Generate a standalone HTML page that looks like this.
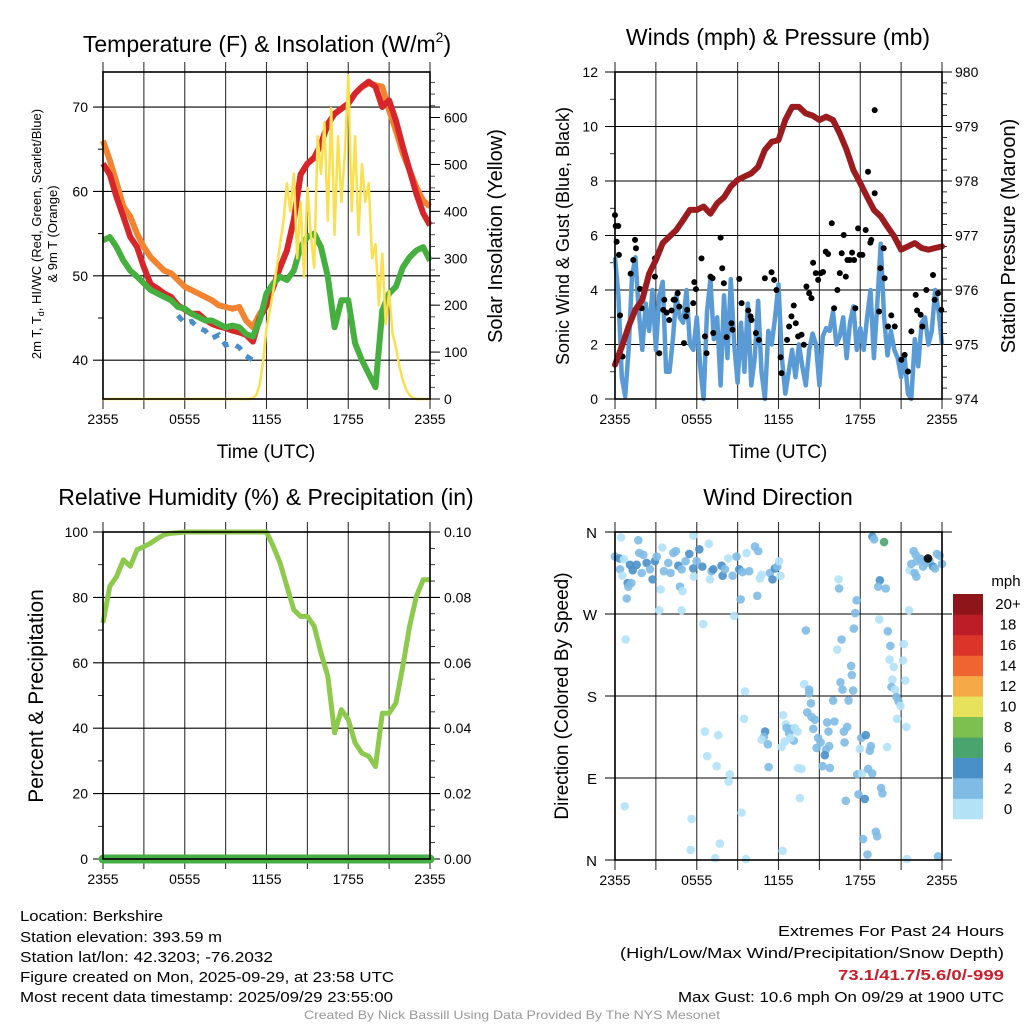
<!DOCTYPE html>
<html><head><meta charset="utf-8"><style>
html,body{margin:0;padding:0;background:#fff;}
svg{display:block;font-family:"Liberation Sans",Arial,sans-serif;}
</style></head><body>
<svg id="fig" width="1024" height="1024" viewBox="0 0 1024 1024" xmlns="http://www.w3.org/2000/svg">
<rect width="1024" height="1024" fill="#fff"/>
<g id="layer"></g>
<g font-size="15" fill="#000">
<text x="20" y="921" textLength="143" lengthAdjust="spacingAndGlyphs">Location: Berkshire</text>
<text x="20" y="942" textLength="202" lengthAdjust="spacingAndGlyphs">Station elevation: 393.59 m</text>
<text x="20" y="962" textLength="253" lengthAdjust="spacingAndGlyphs">Station lat/lon: 42.3203; -76.2032</text>
<text x="20" y="982" textLength="374" lengthAdjust="spacingAndGlyphs">Figure created on Mon, 2025-09-29, at 23:58 UTC</text>
<text x="20" y="1002" textLength="373" lengthAdjust="spacingAndGlyphs">Most recent data timestamp: 2025/09/29 23:55:00</text>
<text x="1004" y="936" text-anchor="end" textLength="226" lengthAdjust="spacingAndGlyphs">Extremes For Past 24 Hours</text>
<text x="1004" y="958" text-anchor="end" textLength="384" lengthAdjust="spacingAndGlyphs">(High/Low/Max Wind/Precipitation/Snow Depth)</text>
<text x="1004" y="980" text-anchor="end" font-weight="bold" fill="#c8202a" textLength="166" lengthAdjust="spacingAndGlyphs">73.1/41.7/5.6/0/-999</text>
<text x="1004" y="1002" text-anchor="end" textLength="326" lengthAdjust="spacingAndGlyphs">Max Gust: 10.6 mph On 09/29 at 1900 UTC</text>
<text x="512" y="1019" text-anchor="middle" font-size="12" fill="#999" textLength="416" lengthAdjust="spacingAndGlyphs">Created By Nick Bassill Using Data Provided By The NYS Mesonet</text>
</g>
</svg>
<script>
// ---------- DATA ----------
const xTickLabels = ["2355","0555","1155","1755","2355"];
const tempRed = [63.3,62,59.3,57,54.6,53.4,51,49,48.5,47.9,47.5,46.5,46,45.5,45.5,44.8,44.3,44,43.8,43.5,43.3,43,42.2,45,46.5,48.7,51,53,56.6,62,63.3,64,65.6,68,69.2,69.8,70.4,71.6,72.4,73,72.4,70,70.8,68.4,65.3,62.5,59.7,57.4,56];
const temp9m = [66,63.7,61,58.2,57,55,53.4,52.2,51.4,50.6,50.3,49.5,48.7,48.3,47.9,47.5,47.1,46.5,46.3,46.1,46.3,44.7,43.9,45.5,46.5,48.7,51,53,56.6,62,63.3,64,65.6,68,69.2,69.8,70.4,71.6,72.4,72.8,72.6,72.4,69.6,67.2,64.5,62.5,60.5,58.9,58.2];
const dewGreen = [54.2,54.6,53.4,51.8,50.6,49.9,49.1,48.3,47.9,47.5,47.1,46.3,46.1,45.5,45.1,44.7,44.7,44.3,43.9,44.1,43.9,43.1,42.8,44.7,47.9,49.1,49.9,49.5,50.6,53.4,54.6,55,53.4,49.9,43.9,47.1,47.1,42,40,38.4,36.8,45.9,47.9,48.7,51,52.2,53,53.4,51.8];
const windChillStart = 5.5;
const windChill = [45.3,44.4,44.6,43.8,43.5,42.6,43,41.8,42,41.5,40.5,40];
const solar = [0,0,0,0,0,0,0,0,0,0,0,0,0,0,0,0,0,0,0,0,0,0,0,0,0,0,0,0,0,0,0,0,0,0,0,0,0,0,0,0,0,0,0,0,
2,8,30,80,150,190,230,280,330,380,460,400,480,300,420,260,450,350,280,560,480,590,380,620,350,560,420,520,690,400,560,350,500,420,460,300,330,200,310,160,230,140,110,70,40,20,8,2,
0,0,0,0,0];
const windSpeed = [5.2,3.8,0.8,0.1,1.8,4.5,5.2,3.2,1.8,3.5,2.5,4.0,1.8,3.8,4.3,1.0,1.0,2.2,3.8,3.0,2.8,4.0,2.0,1.8,3.0,1.2,0.0,3.2,4.4,2.2,3.0,0.5,3.8,1.5,4.4,2.0,0.6,2.8,1.0,3.5,0.5,1.5,3.6,1.0,0.0,2.5,2.0,3.0,4.2,1.5,0.2,1.0,1.8,0.8,2.0,1.2,0.5,1.8,2.4,2.0,0.5,2.3,2.6,2.5,3.2,2.0,2.3,3.0,1.5,2.8,3.4,1.8,2.6,1.8,3.0,4.0,1.5,3.5,5.7,3.0,1.6,2.5,1.8,1.5,0.8,1.6,0.2,0.0,2.2,1.2,2.8,3.0,2.0,2.5,4.0,3.2,2.0];
const gustHours = [0,0.05,0.24,0.12,0.29,0.37,0.56,1.15,1.34,1.47,1.54,1.83,1.96,2.93,2.93,3.25,3.62,3.54,3.79,3.98,4.15,4.3,4.4,4.6,4.72,5.06,5.21,5.3,5.74,5.82,5.94,6.35,6.6,6.72,7.01,7.16,7.21,7.75,7.87,7.99,8.19,8.55,8.63,9.12,9.29,9.78,9.95,10.02,10.34,10.56,11.0,11.49,11.68,11.85,12.15,12.22,12.63,12.78,12.95,13.12,13.27,13.44,13.69,13.86,14.05,14.25,14.42,14.54,14.74,14.91,15.1,15.27,15.47,15.64,15.91,16.08,16.32,16.5,16.64,16.79,16.94,17.06,17.23,17.4,17.55,17.64,17.84,17.96,18.16,18.4,18.57,18.74,18.81,19.06,19.06,19.38,19.48,19.72,19.79,20.04,20.28,20.53,21.02,21.26,21.5,21.75,22.07,22.17,22.43,22.56,22.85,23.34,23.46,23.71,23.95];
const gustMph = [6.75,6.35,6.35,5.77,5.29,3.07,1.56,4.6,5.1,5.84,5.53,4.04,3.33,5.16,4.49,1.68,3.64,3.27,3.17,2.9,3.25,3.64,3.64,3.88,3.39,2.05,3.03,3.27,3.52,4.29,4.03,5.16,2.3,1.68,4.49,4.43,2.42,5.92,4.8,4.25,2.27,2.78,2.54,4.41,3.52,3.25,3.03,2.9,2.42,2.17,4.43,4.65,4.37,4.0,1.53,0.95,2.17,2.66,3.03,3.43,2.78,2.3,2.36,1.99,4.13,3.88,3.7,5.0,4.62,4.37,4.62,4.66,5.41,5.32,6.45,3.33,4.0,4.62,5.35,6.02,4.49,5.1,5.1,5.37,5.1,3.33,6.26,5.29,5.29,6.2,8.34,5.74,5.84,10.6,7.55,3.21,4.8,5.53,4.43,2.66,3.07,2.66,1.44,1.62,1.01,2.48,3.82,3.25,3.09,2.66,4.0,4.55,3.64,3.88,3.27];
const pressure = [974.63,974.96,975.33,975.64,975.82,976.3,976.55,976.86,976.98,977.1,977.28,977.47,977.47,977.53,977.4,977.59,977.7,977.9,978.02,978.08,978.14,978.26,978.57,978.72,978.75,979.12,979.36,979.36,979.24,979.2,979.12,979.18,979.12,978.87,978.57,978.2,977.96,977.71,977.47,977.35,977.16,976.98,976.74,976.8,976.86,976.77,976.74,976.77,976.8];
const relHum = [72.2,83.4,86.4,91.5,89.5,94.6,95.5,96.6,98,99.2,99.6,99.8,100,100,100,100,100,100,100,100,100,100,100,100,100,95.6,90.5,83.4,76.2,74.2,74.2,71.2,63,55.9,38.6,45.7,42.6,35.5,32.4,31.4,28.3,44.6,44.6,47.7,58.9,71.2,80.3,85.4,85.4];
const precip = [0,0,0,0,0,0,0,0,0,0,0,0,0,0,0,0,0,0,0,0,0,0,0,0,0,0,0,0,0,0,0,0,0,0,0,0,0,0,0,0,0,0,0,0,0,0,0,0,0];
const dirHours = [0.44,1.71,0,0.32,0.66,0.37,0.54,1.10,1.30,1.59,1.78,2.08,1.96,2.32,2.57,2.76,2.93,3.06,3.47,3.59,3.91,4.08,4.28,4.47,4.65,4.89,5.18,5.45,5.75,5.79,5.99,6.19,6.41,6.89,7.09,7.21,6.97,7.82,7.90,8.07,8.31,8.63,8.92,9.12,9.36,9.66,9.85,10.27,10.51,10.64,10.76,11.37,11.56,11.74,11.91,12.05,12.15,4.77,4.96,5.75,0.93,1.20,0.98,0.86,3.35,9.22,10.44,3.25,4.89,8.75,6.48,0.78,9.54,9.46,6.60,7.58,6.77,7.46,8.43,8.34,0.71,5.62,9.29,5.55,7.70,7.36,9.61,12.30,11.02,10.93,10.76,11.22,11.27,12.34,12.54,12.59,12.78,12.98,13.20,13.12,12.88,12.46,12.22,13.40,13.44,13.69,13.57,14.01,13.89,14.25,14.25,14.38,14.11,14.42,14.67,14.55,14.91,15.09,14.79,15.48,15.40,15.72,15.23,15.77,16.01,16.11,15.57,15.67,16.80,16.85,17.04,16.41,16.45,16.31,16.63,16.55,16.70,17.14,17.33,17.38,17.48,17.73,17.63,17.53,18.07,17.97,17.78,18.14,18.58,18.88,18.41,18.78,18.70,16.94,17.87,18.33,19.53,19.63,18.21,19.14,19.24,18.53,18.89,19.02,19.75,19.44,19.32,19.87,19.39,20.02,20.21,20.16,20.46,20.36,20.29,20.56,20.66,20.81,20.95,20.70,21.19,21.14,21.31,21.38,19.97,21.58,21.43,23.71,21.63,21.75,21.92,22.07,22.17,22.12,22.36,22.61,22.85,23.09,23.34,23.49,23.63,23.83,24.0,21.99,22.48,22.97];
const dirDeg = [354,351,333,331,330,319,312,324,318,324,337,335,315,326,319,308,328,333,343,317,326,315,337,339,323,319,328,336,320,311,328,341,322,347,317,319,308,323,312,319,331,312,333,319,316,337,317,344,339,309,313,315,308,320,322,328,312,300,295,356,304,304,300,287,297,286,290,274,274,268,259,242,185,155,141,137,114,103,94,86,59,45,52,11,18,2,1,10,141,135,132,127,102,159,149,145,139,144,145,131,134,130,124,141,101,100,68,252,193,187,183,172,162,157,154,144,134,129,123,121,115,125,103,101,175,152,151,141,141,129,146,308,298,231,242,195,187,175,213,203,186,285,271,254,134,122,94,95,100,95,137,125,120,65,72,67,79,73,23,31,26,6,355,352,349,307,300,298,264,251,235,220,212,198,190,187,179,174,169,155,237,219,197,146,124,274,1,4,318,325,339,335,328,311,331,322,326,328,322,320,336,334,325,315,330,331];
const dirSpeed = [1,3,3,5,1,3,1,5,5,5,3,3,3,5,3,5,5,3,1,3,3,3,3,3,5,3,3,5,5,1,3,5,5,1,3,5,1,5,5,3,1,3,3,5,3,1,3,3,3,1,1,3,5,5,3,1,1,3,1,1,5,3,3,3,1,3,3,1,1,1,1,1,1,1,1,1,1,1,1,1,1,1,1,1,1,1,1,1,5,3,1,3,3,1,1,3,3,3,1,3,1,1,1,1,1,1,1,3,1,3,3,3,3,3,3,3,3,3,3,3,5,3,3,3,3,3,3,3,3,3,3,1,3,1,3,3,3,3,3,3,3,3,3,3,3,1,3,1,3,3,5,3,3,3,3,5,3,3,3,3,3,3,5,3,7,5,3,3,1,3,3,1,1,1,3,1,3,3,1,1,1,1,1,1,1,1,1,3,1,3,3,3,3,3,3,3,3,3,5,3,3,3,3,3,3];
const speedBinLabels = ["0","2","4","6","8","10","12","14","16","18","20+"];
const speedBinColors = ["#b3e2f7","#80bbe5","#4a90c8","#49a46e","#7dc04f","#e7e25b","#f5aa47","#ef6431","#dc3429","#bc1d26","#8e161a"];

// ---------- HELPERS ----------
const NS = "http://www.w3.org/2000/svg";
const layer = document.getElementById("layer");
function mk(tag, attrs, parent) {
  const e = document.createElementNS(NS, tag);
  for (const k in attrs) e.setAttribute(k, attrs[k]);
  (parent || layer).appendChild(e);
  return e;
}
function txt(x, y, s, size, anchor, parent, rot) {
  const t = mk("text", {x: x, y: y, "font-size": size, "text-anchor": anchor || "middle", fill: "#000"}, parent);
  if (rot) t.setAttribute("transform", "rotate(-90 " + x + " " + y + ")");
  t.textContent = s;
  return t;
}
function linePath(xs, ys) {
  let d = "";
  for (let i = 0; i < xs.length; i++) d += (i ? "L" : "M") + xs[i].toFixed(1) + " " + ys[i].toFixed(1);
  return d;
}
function panelFrame(g, P, xLab) {
  for (let k = 0; k <= 8; k++) {
    const x = P.x(k * 3);
    const v = mk("line", {x1: x, x2: x, y1: P.T - 10, y2: P.B + 10, stroke: "#000", "stroke-width": 1.1, "stroke-opacity": 0.8}, g);
    
    
  }
  if (xLab) {
    for (let k = 0; k < xTickLabels.length; k++) {
      const t = txt(P.x(k * 6), P.B + 25, xTickLabels[k], 14, "middle", g);
      
      
    }
  }
}
function hGrid(g, P, y) {
  const h = mk("line", {x1: P.L - 10, x2: P.R + 10, y1: y, y2: y, stroke: "#000", "stroke-width": 1.1}, g);
  
  
}
function border(g, P) {
  const r = mk("rect", {x: P.L, y: P.T, width: P.R - P.L, height: P.B - P.T, fill: "none", stroke: "#000", "stroke-width": 1.6}, g);
  
  
}
function minorRight(g, P, n) {
  for (let i = 0; i <= n; i++) {
    const y = P.B - i * (P.B - P.T) / n;
    const m = mk("line", {x1: P.R, x2: P.R + 5, y1: y, y2: y, stroke: "#000", "stroke-width": 0.8}, g);
    
    
  }
}
function title(x, y, s, g) {
  return txt(x, y, s, 23, "middle", g);
}
const hoursHalf = relHum.map((_, i) => i * 0.5);
const hoursQuarter = solar.map((_, i) => i * 0.25);

// ---------- PANEL 1: TEMPERATURE ----------
(function () {
  const g = mk("g", {});
  
  
  const P = {L: 103, R: 430, T: 72, B: 399};
  P.x = h => P.L + h / 24 * (P.R - P.L);
  const yT = v => P.B - (v - 35.4) / (74.15 - 35.4) * (P.B - P.T);
  const yS = v => P.B - v / 697 * (P.B - P.T);
  panelFrame(g, P, true);
  [40, 50, 60, 70].forEach(v => {
    hGrid(g, P, yT(v));
    const t = txt(88, yT(v) + 5, String(v), 14, "end", g);
    
    
  });
  [45, 55, 65].forEach(v => {
    const m = mk("line", {x1: P.L - 5, x2: P.L, y1: yT(v), y2: yT(v), stroke: "#000"}, g);
    
    
  });
  for (let v = 0; v <= 600; v += 100) {
    const m = mk("line", {x1: P.R, x2: P.R + 10, y1: yS(v), y2: yS(v), stroke: "#000"}, g);
    
    
    const t = txt(444, yS(v) + 5, String(v), 14, "start", g);
    
    
  }
  for (let v = 0; v <= 675; v += 25) {
    const m = mk("line", {x1: P.R, x2: P.R + 5, y1: yS(v), y2: yS(v), stroke: "#000", "stroke-width": 0.7}, g);
    
    
  }
  const clip = mk("clipPath", {id: "c1"}, g);
  mk("rect", {x: P.L - 4, y: P.T - 4, width: P.R - P.L + 8, height: P.B - P.T + 8}, clip);
  const o = mk("path", {d: linePath(hoursHalf.map(P.x), temp9m.map(yT)), fill: "none", stroke: "#f28330", "stroke-width": 6, "stroke-linejoin": "round", "clip-path": "url(#c1)"}, g);
  
  
  const r = mk("path", {d: linePath(hoursHalf.map(P.x), tempRed.map(yT)), fill: "none", stroke: "#d7262b", "stroke-width": 6, "stroke-linejoin": "round", "clip-path": "url(#c1)"}, g);
  
  
  const gr = mk("path", {d: linePath(hoursHalf.map(P.x), dewGreen.map(yT)), fill: "none", stroke: "#45b040", "stroke-width": 6, "stroke-linejoin": "round", "clip-path": "url(#c1)"}, g);
  
  
  const wc = mk("path", {d: linePath(windChill.map((_, i) => P.x(windChillStart + i * 0.5)), windChill.map(yT)), fill: "none", stroke: "#4a8fcc", "stroke-width": 5, "stroke-dasharray": "7 8", "clip-path": "url(#c1)"}, g);
  
  
  const s = mk("path", {d: linePath(hoursQuarter.map(P.x), solar.map(yS)), fill: "none", stroke: "#f8e04e", "stroke-width": 2.5, "stroke-linejoin": "round"}, g);
  
  
  border(g, P);
  const t1 = txt(267, 52, "", 23, "middle", g);
  t1.innerHTML = 'Temperature (F) &amp; Insolation (W/m<tspan font-size="14" dy="-10">2</tspan><tspan dy="10">)</tspan>';
  
  
  const xa = txt(266, 458, "Time (UTC)", 19, "middle", g);
  
  
  const ya1 = txt(41, 234, "", 13, "middle", g, true);
  ya1.innerHTML = '2m T, T<tspan font-size="9" dy="3">d</tspan><tspan dy="-3">, HI/WC (Red, Green, Scarlet/Blue)</tspan>';
  
  
  const ya2 = txt(57, 234, "& 9m T (Orange)", 13, "middle", g, true);
  
  
  const yr = txt(502, 236, "Solar Insolation (Yellow)", 20, "middle", g, true);
  
  
})();

// ---------- PANEL 2: WINDS ----------
(function () {
  const g = mk("g", {});
  
  
  const P = {L: 615, R: 942, T: 72, B: 399};
  P.x = h => P.L + h / 24 * (P.R - P.L);
  const yW = v => P.B - v / 12 * (P.B - P.T);
  const yP = p => P.B - (p - 974) / 6 * (P.B - P.T);
  panelFrame(g, P, true);
  for (let v = 0; v <= 12; v += 2) {
    hGrid(g, P, yW(v));
    const t = txt(598, yW(v) + 5, String(v), 14, "end", g);
    
    
    if (v < 12) {
      const m = mk("line", {x1: P.L - 5, x2: P.L, y1: yW(v + 1), y2: yW(v + 1), stroke: "#000", "stroke-width": 0.8}, g);
      
      
    }
  }
  for (let p = 974; p <= 980; p++) {
    const t = txt(955, yP(p) + 5, String(p), 14, "start", g);
    
    
  }
  minorRight(g, P, 30);
  const w = mk("path", {d: linePath(hoursQuarter.map(P.x), windSpeed.map(yW)), fill: "none", stroke: "#5b9bd5", "stroke-width": 4.5, "stroke-linejoin": "round"}, g);
  
  
  for (let i = 0; i < gustHours.length; i++) {
    const c = mk("circle", {cx: P.x(gustHours[i]), cy: yW(gustMph[i]), r: 3, fill: "#000"}, g);
    
    
  }
  const pr = mk("path", {d: linePath(hoursHalf.map(P.x), pressure.map(yP)), fill: "none", stroke: "#9b1b1e", "stroke-width": 6, "stroke-linejoin": "round", "stroke-linecap": "round"}, g);
  
  
  border(g, P);
  const t = title(778, 45, "Winds (mph) & Pressure (mb)", g);
  
  
  const xa = txt(778, 458, "Time (UTC)", 19, "middle", g);
  
  
  const yl = txt(569, 236, "Sonic Wind & Gust (Blue, Black)", 18, "middle", g, true);
  
  
  const yr = txt(1015, 236, "Station Pressure (Maroon)", 20, "middle", g, true);
  
  
})();

// ---------- PANEL 3: RH ----------
(function () {
  const g = mk("g", {});
  
  
  const P = {L: 103, R: 430, T: 532, B: 859};
  P.x = h => P.L + h / 24 * (P.R - P.L);
  const yR = v => P.B - v / 100 * (P.B - P.T);
  const yPr = v => P.B - v / 0.1 * (P.B - P.T);
  panelFrame(g, P, true);
  for (let v = 0; v <= 100; v += 20) {
    hGrid(g, P, yR(v));
    const t = txt(88, yR(v) + 5, String(v), 14, "end", g);
    
    
    const t2 = txt(444, yR(v) + 5, (v / 1000).toFixed(2), 14, "start", g);
    
    
  }
  for (let v = 10; v < 100; v += 20) {
    const m = mk("line", {x1: P.L - 5, x2: P.L, y1: yR(v), y2: yR(v), stroke: "#000", "stroke-width": 0.8}, g);
    
    
  }
  minorRight(g, P, 20);
  const r = mk("path", {d: linePath(hoursHalf.map(P.x), relHum.map(yR)), fill: "none", stroke: "#8cc94c", "stroke-width": 5, "stroke-linejoin": "round"}, g);
  
  
  const p = mk("path", {d: linePath(hoursHalf.map(P.x), precip.map(yPr)), fill: "none", stroke: "#46ae46", "stroke-width": 9, "stroke-linecap": "round"}, g);
  
  
  border(g, P);
  const t = title(266, 505, "Relative Humidity (%) & Precipitation (in)", g);
  
  
  const yl = txt(43, 696, "Percent & Precipitation", 21, "middle", g, true);
  
  
})();

// ---------- PANEL 4: WIND DIRECTION ----------
(function () {
  const g = mk("g", {});
  
  
  const P = {L: 615, R: 942, T: 532, B: 860};
  P.x = h => P.L + h / 24 * (P.R - P.L);
  const yD = d => P.B - d / 360 * (P.B - P.T);
  panelFrame(g, P, true);
  const dirLabels = ["N", "E", "S", "W", "N"];
  for (let k = 0; k < 5; k++) {
    hGrid(g, P, yD(k * 90));
    const t = txt(597, yD(k * 90) + 6, dirLabels[k], 15, "end", g);
    
    
  }
  const binColor = s => speedBinColors[Math.min(10, Math.floor(s / 2))];
  for (let i = 0; i < dirHours.length; i++) {
    const c = mk("circle", {cx: P.x(dirHours[i]), cy: yD(dirDeg[i]), r: 4.3, fill: binColor(dirSpeed[i]), "fill-opacity": 0.9}, g);
    
    
  }
  border(g, P);
  const cbT = 594, cbB = 819, n = speedBinColors.length, bh = (cbB - cbT) / n;
  for (let i = 0; i < n; i++) {
    const y = cbB - (i + 1) * bh;
    const r = mk("rect", {x: 953, y: y, width: 30, height: bh + 0.3, fill: speedBinColors[i]}, g);
    
    
    const t = txt(1008, y + bh / 2 + 5, speedBinLabels[i], 15, "middle", g);
    
    
  }
  const mph = txt(1006, 586, "mph", 15, "middle", g);
  
  
  const t = title(778, 505, "Wind Direction", g);
  
  
  const yl = txt(568, 696, "Direction (Colored By Speed)", 19, "middle", g, true);
  
  
})();
</script>
</body></html>
